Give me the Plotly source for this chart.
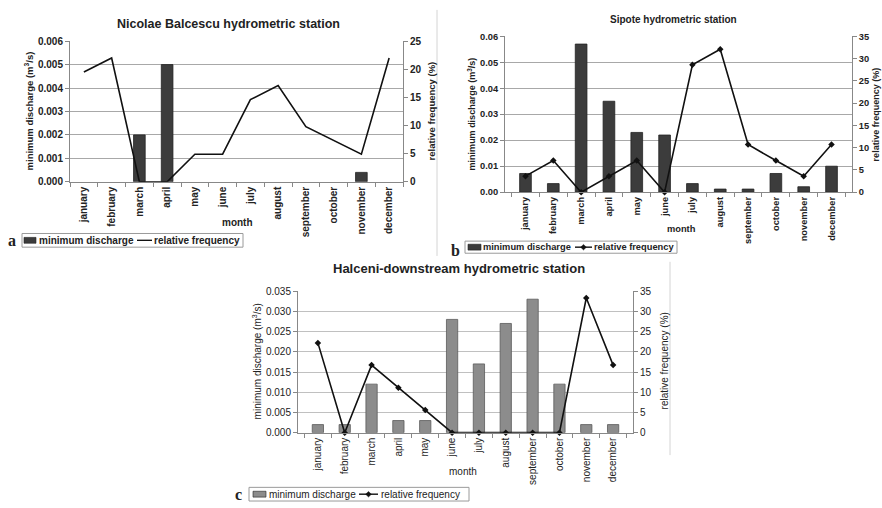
import plotly.graph_objects as go

W, H = 882, 508

months = ["january", "february", "march", "april", "may", "june", "july",
          "august", "september", "october", "november", "december"]

# Nicolae Balcescu station
nb_discharge = [None, None, 0.002, 0.005, None, None, None, None, None, None, 0.0004, None]
nb_frequency = [19.5, 22.0, 0.0, 0.0, 4.9, 4.9, 14.6, 17.1, 9.8, 7.3, 4.9, 22.0]

# Sipote station
si_discharge = [0.0072, 0.0033, 0.057, 0.035, 0.023, 0.022, 0.0033, 0.0012, 0.0012, 0.0072, 0.0021, 0.010]
si_frequency = [3.6, 7.1, 0.0, 3.6, 7.1, 0.0, 28.6, 32.1, 10.7, 7.1, 3.6, 10.7]

# Halceni-downstream station
ha_discharge = [0.002, 0.002, 0.012, 0.003, 0.003, 0.028, 0.017, 0.027, 0.033, 0.012, 0.002, 0.002]
ha_frequency = [22.2, 0.0, 16.7, 11.1, 5.6, 0.0, 0.0, 0.0, 0.0, 0.0, 33.3, 16.7]

series_names = ["minimum discharge", "relative frequency"]


def px(x):
    return x / W


def py(y):
    return 1 - y / H


SANS = "Liberation Sans, Arial, sans-serif"
SERIF = "Liberation Serif, Times New Roman, serif"
TXT = "#222222"
DARK_BAR = "#3c3c3c"
GRAY_BAR = "#8c8c8c"

fig = go.Figure()

# ---- traces -------------------------------------------------------------
fig.add_trace(go.Bar(x=months, y=nb_discharge, name=series_names[0],
                     marker=dict(color=DARK_BAR, line=dict(color="#222", width=0.8)),
                     xaxis="x", yaxis="y"))
fig.add_trace(go.Scatter(x=months, y=nb_frequency, name=series_names[1],
                         mode="lines", line=dict(color="#111", width=1.6),
                         xaxis="x", yaxis="y2"))

fig.add_trace(go.Bar(x=months, y=si_discharge, name=series_names[0],
                     marker=dict(color=DARK_BAR, line=dict(color="#222", width=0.8)),
                     xaxis="x2", yaxis="y3"))
fig.add_trace(go.Scatter(x=months, y=si_frequency, name=series_names[1],
                         mode="lines+markers", line=dict(color="#111", width=1.6),
                         marker=dict(symbol="diamond", size=5, color="#111"),
                         cliponaxis=False, xaxis="x2", yaxis="y4"))

fig.add_trace(go.Bar(x=months, y=ha_discharge, name=series_names[0],
                     marker=dict(color=GRAY_BAR, line=dict(color="#5a5a5a", width=0.8)),
                     xaxis="x3", yaxis="y5"))
fig.add_trace(go.Scatter(x=months, y=ha_frequency, name=series_names[1],
                         mode="lines+markers", line=dict(color="#111", width=1.6),
                         marker=dict(symbol="diamond", size=5, color="#111"),
                         cliponaxis=False, xaxis="x3", yaxis="y6"))


# ---- axes ---------------------------------------------------------------
def xcat(domain, anchor, size, weight):
    return dict(domain=domain, anchor=anchor, type="category",
                tickangle=-90, tickson="boundaries", ticks="outside", ticklen=4,
                tickcolor="#888", showline=True, linecolor="#888", linewidth=1,
                showgrid=False, tickfont=dict(family=SANS, size=size, color=TXT, weight=weight))


def yleft(domain, anchor, rng, dtick, fmt, size, weight, grid):
    return dict(domain=domain, anchor=anchor, range=rng, dtick=dtick, tickformat=fmt,
                ticks="outside", ticklen=4, tickcolor="#888",
                showline=True, linecolor="#888", linewidth=1,
                showgrid=True, gridcolor=grid, gridwidth=1, zeroline=False,
                tickfont=dict(family=SANS, size=size, color=TXT, weight=weight))


def yright(anchor, over, rng, size, weight):
    return dict(anchor=anchor, overlaying=over, side="right", range=rng, dtick=5,
                ticks="outside", ticklen=4, tickcolor="#888",
                showline=True, linecolor="#888", linewidth=1,
                showgrid=False, zeroline=False,
                tickfont=dict(family=SANS, size=size, color=TXT, weight=weight))


xa = [px(70), px(403)]
ya = [py(180), py(36)]
xb = [px(505), px(852)]
yb = [py(190.7), py(31)]
xc = [px(298), px(633)]
yc = [py(437), py(292)]

fig.update_layout(
    xaxis=xcat(xa, "y", 10, "bold"),
    yaxis=yleft(ya, "x", [0, 0.006], 0.001, ".3f", 10, "bold", "#a8a8a8"),
    yaxis2=yright("x", "y", [0, 25], 10, "bold"),
    xaxis2=xcat(xb, "y3", 9.3, "bold"),
    yaxis3=yleft(yb, "x2", [0, 0.06], 0.01, ".2f", 9.3, "bold", "#a8a8a8"),
    yaxis4=yright("x2", "y3", [0, 35], 9.3, "bold"),
    xaxis3=xcat(xc, "y5", 10, "normal"),
    yaxis5=yleft(yc, "x3", [0, 0.035], 0.005, ".3f", 10, "normal", "#c0c0c0"),
    yaxis6=yright("x3", "y5", [0, 35], 10, "normal"),
    barmode="group", bargap=0.58, showlegend=False,
    width=W, height=H, margin=dict(l=0, r=0, t=0, b=0),
    paper_bgcolor="white", plot_bgcolor="white",
)

# ---- titles and labels --------------------------------------------------
ann = []
shapes = []


def text(x, y, s, size, weight="normal", angle=0, family=SANS, anchor="center"):
    ann.append(dict(x=px(x), y=py(y), xref="paper", yref="paper", text=s, showarrow=False,
                    xanchor=anchor, yanchor="middle", textangle=angle,
                    font=dict(family=family, size=size, color=TXT, weight=weight)))


text(228, 18, "Nicolae Balcescu hydrometric station", 12.5, "bold")
text(673, 14, "Sipote hydrometric station", 10, "bold")
text(459, 269, "Halceni-downstream hydrometric station", 13, "bold")

text(29, 108, "minimum discharge (m<sup>3</sup>/s)", 9.5, "bold", -90)
text(431, 108, "relative frequency (%)", 9.5, "bold", -90)
text(237, 222, "month", 10, "bold")

text(472, 111, "minimum discharge (m<sup>3</sup>/s)", 9, "bold", -90)
text(876, 111, "relative frequency (%)", 9, "bold", -90)
text(681, 228, "month", 9.3, "bold")

text(257, 364, "minimum discharge (m<sup>3</sup>/s)", 10, "normal", -90)
text(664, 364, "relative frequency (%)", 10, "normal", -90)
text(463, 477, "month", 10, "normal")

text(12, 240, "a", 16, "bold", 0, SERIF)
text(455, 250, "b", 16, "bold", 0, SERIF)
text(238, 500, "c", 16, "bold", 0, SERIF)


# ---- compact boxed legends ---------------------------------------------
def legend_box(x0, x1, yc, hh, key_x, txt1_x, line_x, txt2_x, bar_color, size, weight, diamond):
    shapes.append(dict(type="rect", xref="paper", yref="paper",
                       x0=px(x0), x1=px(x1), y0=py(yc + hh), y1=py(yc - hh),
                       line=dict(color="#9a9a9a", width=1), fillcolor="white"))
    shapes.append(dict(type="rect", xref="paper", yref="paper",
                       x0=px(key_x[0]), x1=px(key_x[1]), y0=py(yc + 3), y1=py(yc - 3),
                       line=dict(color="#222", width=0.6), fillcolor=bar_color))
    shapes.append(dict(type="line", xref="paper", yref="paper",
                       x0=px(line_x[0]), x1=px(line_x[1]), y0=py(yc), y1=py(yc),
                       line=dict(color="#111", width=1.4)))
    if diamond:
        cx = (line_x[0] + line_x[1]) / 2
        r = 2.8
        path = (f"M {px(cx - r)},{py(yc)} L {px(cx)},{py(yc - r)} "
                f"L {px(cx + r)},{py(yc)} L {px(cx)},{py(yc + r)} Z")
        shapes.append(dict(type="path", xref="paper", yref="paper", path=path,
                           fillcolor="#111", line=dict(color="#111", width=0.5)))
    text(txt1_x, yc, series_names[0], size, weight, anchor="left")
    text(txt2_x, yc, series_names[1], size, weight, anchor="left")


legend_box(22, 243, 240, 7, (24, 36), 36.5, (137, 152), 151.5, DARK_BAR, 10, "bold", False)
legend_box(465, 677, 247, 6.2, (468, 481), 480.5, (575, 592), 591.5, DARK_BAR, 9.3, "bold", True)
legend_box(249, 469, 500, 7, (253, 266), 266.5, (359, 378), 378.5, GRAY_BAR, 10, "normal", True)

# thin frame edges between the panels
shapes.append(dict(type="line", xref="paper", yref="paper", x0=px(437), x1=px(437),
                   y0=py(4), y1=py(256), line=dict(color="#d4d4d4", width=1)))
shapes.append(dict(type="line", xref="paper", yref="paper", x0=px(670), x1=px(670),
                   y0=py(262), y1=py(460), line=dict(color="#d4d4d4", width=1)))

fig.update_layout(annotations=ann, shapes=shapes)

fig.write_html("out.html")
